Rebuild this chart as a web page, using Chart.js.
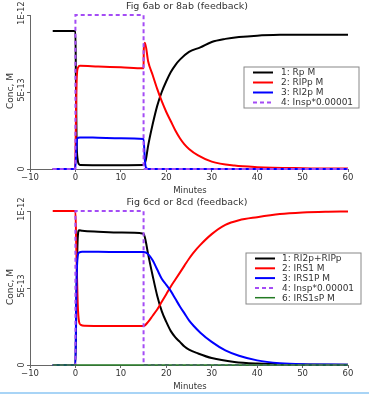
<!DOCTYPE html>
<html><head><meta charset="utf-8">
<script src="https://cdn.jsdelivr.net/npm/chart.js@4.4.0/dist/chart.umd.min.js"></script>
<style>
html,body{margin:0;padding:0;background:#fff;}
body{width:369px;height:394px;overflow:hidden;position:relative;}
.box{position:absolute;left:0;width:369px;height:196px;}
#c1box{top:0}
#c2box{top:196px}
#sep{position:absolute;left:0;top:392px;width:369px;height:2px;background:#a8d4f6;}
</style></head><body>
<div class="box" id="c1box"><canvas id="c1" width="369" height="196"></canvas></div>
<div class="box" id="c2box"><canvas id="c2" width="369" height="196"></canvas></div>
<div id="sep"></div>
<script>
// ---- axis ticks / labels ----
const xTicks = [-10, 0, 10, 20, 30, 40, 50, 60];
const yTickValues = [0, 5e-13, 1e-12];
const yTickLabels = ['0', '5E-13', '1E-12'];
const xTitle = 'Minutes';
const yTitle = 'Conc, M';
const titleTop = 'Fig 6ab or 8ab (feedback)';
const titleBottom = 'Fig 6cd or 8cd (feedback)';

// ---- top panel series (time in minutes, concentration in M) ----
const labelsTop = ['1: Rp M', '2: RIPp M', '3: RI2p M', '4: Insp*0.00001'];
const tRp  = [-5, 0, 0.1, 0.25, 0.5, 0.8, 1, 5, 10, 15, 15.5, 16, 17, 18, 19, 20, 21, 22, 23, 25, 27.5, 30, 33, 36, 40, 45, 50, 60];
const vRp  = [8.96e-13, 8.96e-13, 6.0e-13, 2.0e-13, 0.6e-13, 0.3e-13, 0.26e-13, 0.25e-13, 0.25e-13, 0.26e-13, 0.6e-13, 1.5e-13, 2.9e-13, 4.1e-13, 5.0e-13, 5.7e-13, 6.3e-13, 6.75e-13, 7.1e-13, 7.6e-13, 7.9e-13, 8.25e-13, 8.45e-13, 8.57e-13, 8.66e-13, 8.71e-13, 8.72e-13, 8.72e-13];
const tRIPp = [-5, -0.05, 0.1, 0.3, 0.6, 1, 5, 10, 15, 15.05, 15.3, 16, 17, 18, 19, 20, 21, 22, 23, 24, 25, 27, 30, 35, 40, 50, 57, 60];
const vRIPp = [0, 0, 3.0e-13, 6.0e-13, 6.6e-13, 6.7e-13, 6.65e-13, 6.6e-13, 6.54e-13, 7.8e-13, 8.2e-13, 7.0e-13, 6.1e-13, 5.2e-13, 4.4e-13, 3.7e-13, 3.1e-13, 2.5e-13, 2.0e-13, 1.6e-13, 1.3e-13, 0.88e-13, 0.48e-13, 0.22e-13, 0.12e-13, 0.05e-13, 0.03e-13, 0.03e-13];
const tRI2p = [-5, -0.05, 0.15, 0.4, 1, 5, 10, 15, 15.3, 15.6, 16, 60];
const vRI2p = [0, 0, 1.0e-13, 2.0e-13, 2.05e-13, 2.03e-13, 2.0e-13, 1.95e-13, 0.5e-13, 0.05e-13, 0, 0];
const tInsp = [-5, 0, 0, 15, 15, 60];
const vInsp = [0, 0, 1e-12, 1e-12, 0, 0];

// ---- bottom panel series ----
const labelsBottom = ['1: RI2p+RIPp', '2: IRS1 M', '3: IRS1P M', '4: Insp*0.00001', '6: IRS1sP M'];
const tSum = [-5, 0, 0.2, 0.5, 0.8, 1.5, 5, 10, 15, 15.5, 16, 17, 18, 19, 20, 21, 22, 23, 24, 25, 27, 30, 35, 40, 50, 60];
const vSum = [0, 0, 4.0e-13, 8.2e-13, 8.75e-13, 8.72e-13, 8.66e-13, 8.6e-13, 8.53e-13, 8.0e-13, 7.2e-13, 5.8e-13, 4.5e-13, 3.5e-13, 2.8e-13, 2.2e-13, 1.8e-13, 1.5e-13, 1.2e-13, 1.0e-13, 0.75e-13, 0.45e-13, 0.2e-13, 0.1e-13, 0.03e-13, 0.01e-13];
const tIRS1 = [-5, 0, 0.2, 0.5, 0.8, 1.2, 2, 5, 10, 15, 16, 17, 18, 19, 20, 21, 22, 23, 24, 25, 26, 27.5, 30, 33, 36, 40, 45, 50, 55, 60];
const vIRS1 = [1e-12, 1e-12, 7.5e-13, 4.0e-13, 2.8e-13, 2.6e-13, 2.55e-13, 2.54e-13, 2.54e-13, 2.54e-13, 2.8e-13, 3.2e-13, 3.6e-13, 4.1e-13, 4.6e-13, 5.1e-13, 5.55e-13, 6.0e-13, 6.45e-13, 6.9e-13, 7.3e-13, 7.8e-13, 8.5e-13, 9.1e-13, 9.4e-13, 9.6e-13, 9.8e-13, 9.9e-13, 9.95e-13, 9.97e-13];
const tIRS1P = [-5, 0, 0.15, 0.4, 0.8, 1.5, 5, 10, 15, 16, 17, 18, 19, 20, 21, 22, 23, 24, 25, 26, 27.5, 30, 33, 36, 40, 45, 50, 60];
const vIRS1P = [0, 0, 3.5e-13, 6.8e-13, 7.3e-13, 7.35e-13, 7.35e-13, 7.34e-13, 7.33e-13, 7.2e-13, 6.8e-13, 6.2e-13, 5.6e-13, 5.2e-13, 4.8e-13, 4.3e-13, 3.8e-13, 3.35e-13, 2.9e-13, 2.55e-13, 2.1e-13, 1.5e-13, 0.95e-13, 0.6e-13, 0.3e-13, 0.12e-13, 0.05e-13, 0.02e-13];
const tIRS1sP = [-5, 60];
const vIRS1sP = [0, 0];

function pts(ts, vs) { return ts.map((t, i) => ({ x: t, y: vs[i] })); }

const FONT = 'DejaVu Sans';
const TEXT = '#333';
const AXIS = '#666';

function ds(label, ts, vs, color, extra) {
  return Object.assign({ label, data: pts(ts, vs), borderColor: color, backgroundColor: color,
    borderWidth: 2, pointRadius: 0, fill: false, cubicInterpolationMode: 'monotone', clip: 4 }, extra || {});
}

function panelPlugin(title, legend) {
  return {
    id: 'panel',
    afterDraw(chart) {
      const ctx = chart.ctx, ys = chart.scales.y, ca = chart.chartArea;
      ctx.save();
      ctx.fillStyle = TEXT;
      // title
      ctx.font = '9.5px "' + FONT + '"';
      ctx.textAlign = 'center'; ctx.textBaseline = 'middle';
      ctx.fillText(title, 187, 6.5);
      // x title
      ctx.font = '8.5px "' + FONT + '"';
      ctx.fillText(xTitle, 190, 190.5);
      // rotated y tick labels
      ctx.font = '8px "' + FONT + '"';
      yTickValues.forEach((v, i) => {
        const py = ys.getPixelForValue(v);
        const w = ctx.measureText(yTickLabels[i]).width;
        const shift = i === 0 ? 0 : 2;
        const cy = Math.max(py - shift, w / 2 + 1.5);
        ctx.save();
        ctx.translate(22, cy);
        ctx.rotate(-Math.PI / 2);
        ctx.textAlign = 'center'; ctx.textBaseline = 'middle';
        ctx.fillText(yTickLabels[i], 0, 0);
        ctx.restore();
      });
      // y title
      ctx.save();
      ctx.translate(10.5, (ca.top + ca.bottom) / 2 - 1);
      ctx.rotate(-Math.PI / 2);
      ctx.font = '9px "' + FONT + '"';
      ctx.textAlign = 'center'; ctx.textBaseline = 'middle';
      ctx.fillText(yTitle, 0, 0);
      ctx.restore();
      // legend box
      ctx.fillStyle = '#fff';
      ctx.fillRect(legend.x, legend.y, legend.w, legend.h);
      ctx.strokeStyle = '#888'; ctx.lineWidth = 1;
      ctx.strokeRect(legend.x + 0.5, legend.y + 0.5, legend.w, legend.h);
      chart.data.datasets.forEach((d, i) => {
        const ry = legend.row0 + i * legend.step;
        ctx.save();
        ctx.strokeStyle = d.borderColor; ctx.lineWidth = d.borderWidth;
        ctx.setLineDash(d.borderDash || []);
        ctx.beginPath(); ctx.moveTo(legend.s0, ry); ctx.lineTo(legend.s1, ry); ctx.stroke();
        ctx.restore();
        ctx.fillStyle = TEXT;
        ctx.font = '9px "' + FONT + '"';
        ctx.textAlign = 'left'; ctx.textBaseline = 'middle';
        ctx.fillText(d.label, legend.tx, ry + 0.5);
      });
      ctx.restore();
    }
  };
}

function makeChart(id, datasets, title, legend) {
  datasets.forEach((d, i) => { d.order = 10 - i; });
  return new Chart(document.getElementById(id), {
    type: 'line',
    data: { datasets },
    options: {
      responsive: false, animation: false, maintainAspectRatio: false,
      layout: { padding: { top: 15, right: 21, left: 0, bottom: 0 } },
      plugins: { legend: { display: false }, title: { display: false }, tooltip: { enabled: false } },
      scales: {
        x: {
          type: 'linear', min: -10, max: 60,
          afterBuildTicks: s => { s.ticks = xTicks.map(v => ({ value: v })); },
          afterFit: s => { s.height = 27; },
          grid: { display: true, drawOnChartArea: false, drawTicks: true, tickLength: 3, color: AXIS },
          border: { display: true, color: AXIS, width: 1 },
          ticks: { font: { family: FONT, size: 8.5 }, color: TEXT, padding: 1, maxRotation: 0, minRotation: 0,
                   callback: v => String(v).replace('-', '\u2212') }
        },
        y: {
          type: 'linear', min: 0, max: 1e-12,
          afterBuildTicks: s => { s.ticks = yTickValues.map(v => ({ value: v })); },
          afterFit: s => { s.width = 30; },
          grid: { display: true, drawOnChartArea: false, drawTicks: true, tickLength: 3, color: AXIS },
          border: { display: true, color: AXIS, width: 1 },
          ticks: { display: false }
        }
      }
    },
    plugins: [panelPlugin(title, legend)]
  });
}

makeChart('c1', [
  ds(labelsTop[0], tRp, vRp, '#000000'),
  ds(labelsTop[1], tRIPp, vRIPp, '#ff0000'),
  ds(labelsTop[2], tRI2p, vRI2p, '#0000ff'),
  ds(labelsTop[3], tInsp, vInsp, '#a44cf5', { borderDash: [4, 3], cubicInterpolationMode: 'default', tension: 0 })
], titleTop, { x: 243.5, y: 66.5, w: 115, h: 41, row0: 72.5, step: 10, s0: 253, s1: 273, tx: 281 });

makeChart('c2', [
  ds(labelsBottom[0], tSum, vSum, '#000000'),
  ds(labelsBottom[1], tIRS1, vIRS1, '#ff0000'),
  ds(labelsBottom[2], tIRS1P, vIRS1P, '#0000ff'),
  ds(labelsBottom[3], tInsp, vInsp, '#a44cf5', { borderDash: [4, 3], cubicInterpolationMode: 'default', tension: 0 }),
  ds(labelsBottom[4], tIRS1sP, vIRS1sP, '#237a23', { borderWidth: 1.5 })
], titleBottom, { x: 245.5, y: 56.5, w: 115, h: 51, row0: 62.5, step: 9.8, s0: 255, s1: 275, tx: 282 });
</script>
</body></html>
